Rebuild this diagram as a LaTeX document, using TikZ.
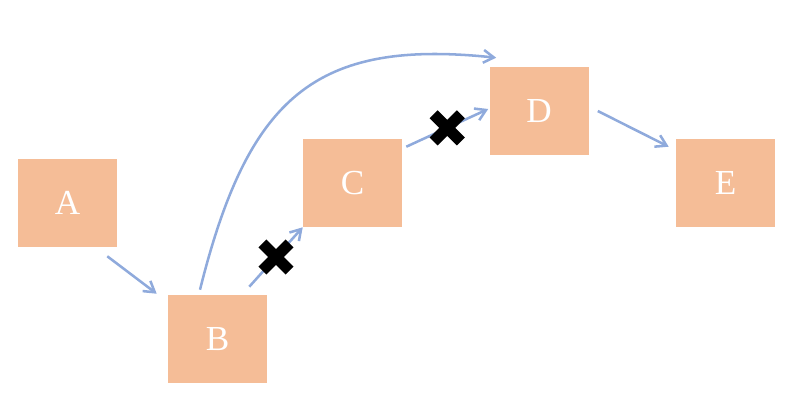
\documentclass[tikz,border=0pt]{standalone}
\usepackage{fontspec}
\setmainfont{Liberation Serif}
\usepackage{tikz}
\usetikzlibrary{arrows.meta,positioning}
\definecolor{boxpeach}{HTML}{F5BD97}
\definecolor{flowblue}{HTML}{8FAADC}

\begin{document}
\begin{tikzpicture}[
    box/.style={fill=boxpeach, minimum width=2.475cm, minimum height=2.2cm,
      inner sep=0pt, text=white, font=\fontsize{25}{30}\selectfont},
    flow/.style={flowblue, line width=1.8pt,
      -{Straight Barb[length=2.6mm,width=3.2mm,line width=1.8pt]}},
    crossmark/.style={black, line width=0.28cm}
  ]
  \useasboundingbox (0,0) rectangle (20,10.175);

  % steps
  \node[box] (A) at (1.6875,5.10) {A};
  \node[box] (B) at (5.4375,1.70) {B};
  \node[box] (C) at (8.8125,5.60) {C};
  \node[box] (D) at (13.475,7.40) {D};
  \node[box] (E) at (18.1375,5.60) {E};

  % links
  \draw[flow] ([shift={(-0.25,-0.225)}]A.south east) -- ([shift={(-0.275,0.025)}]B.north west);
  \draw[flow] ([shift={(-0.45,0.2)}]B.north east) -- coordinate[pos=0.5] (bc) (C.south west);
  \draw[flow] ([shift={(0.1,-0.2)}]C.north east) -- coordinate[pos=0.5] (cd) ([shift={(-0.025,0.05)}]D.west);
  \draw[flow] ([shift={(0.225,0)}]D.east) -- ([shift={(-0.175,-0.2)}]E.north west);
  \draw[flow] ([shift={(-0.4375,0.125)}]B.north)
    .. controls +(1.21,4.85) and +(-4.5,0.475) .. ([shift={(0.175,0.225)}]D.north west);

  % blocked links
  \foreach \c in {bc,cd}
    \draw[crossmark] ([shift={(-0.34,-0.34)}]\c) -- ([shift={(0.34,0.34)}]\c)
      ([shift={(-0.34,0.34)}]\c) -- ([shift={(0.34,-0.34)}]\c);
\end{tikzpicture}
\end{document}
